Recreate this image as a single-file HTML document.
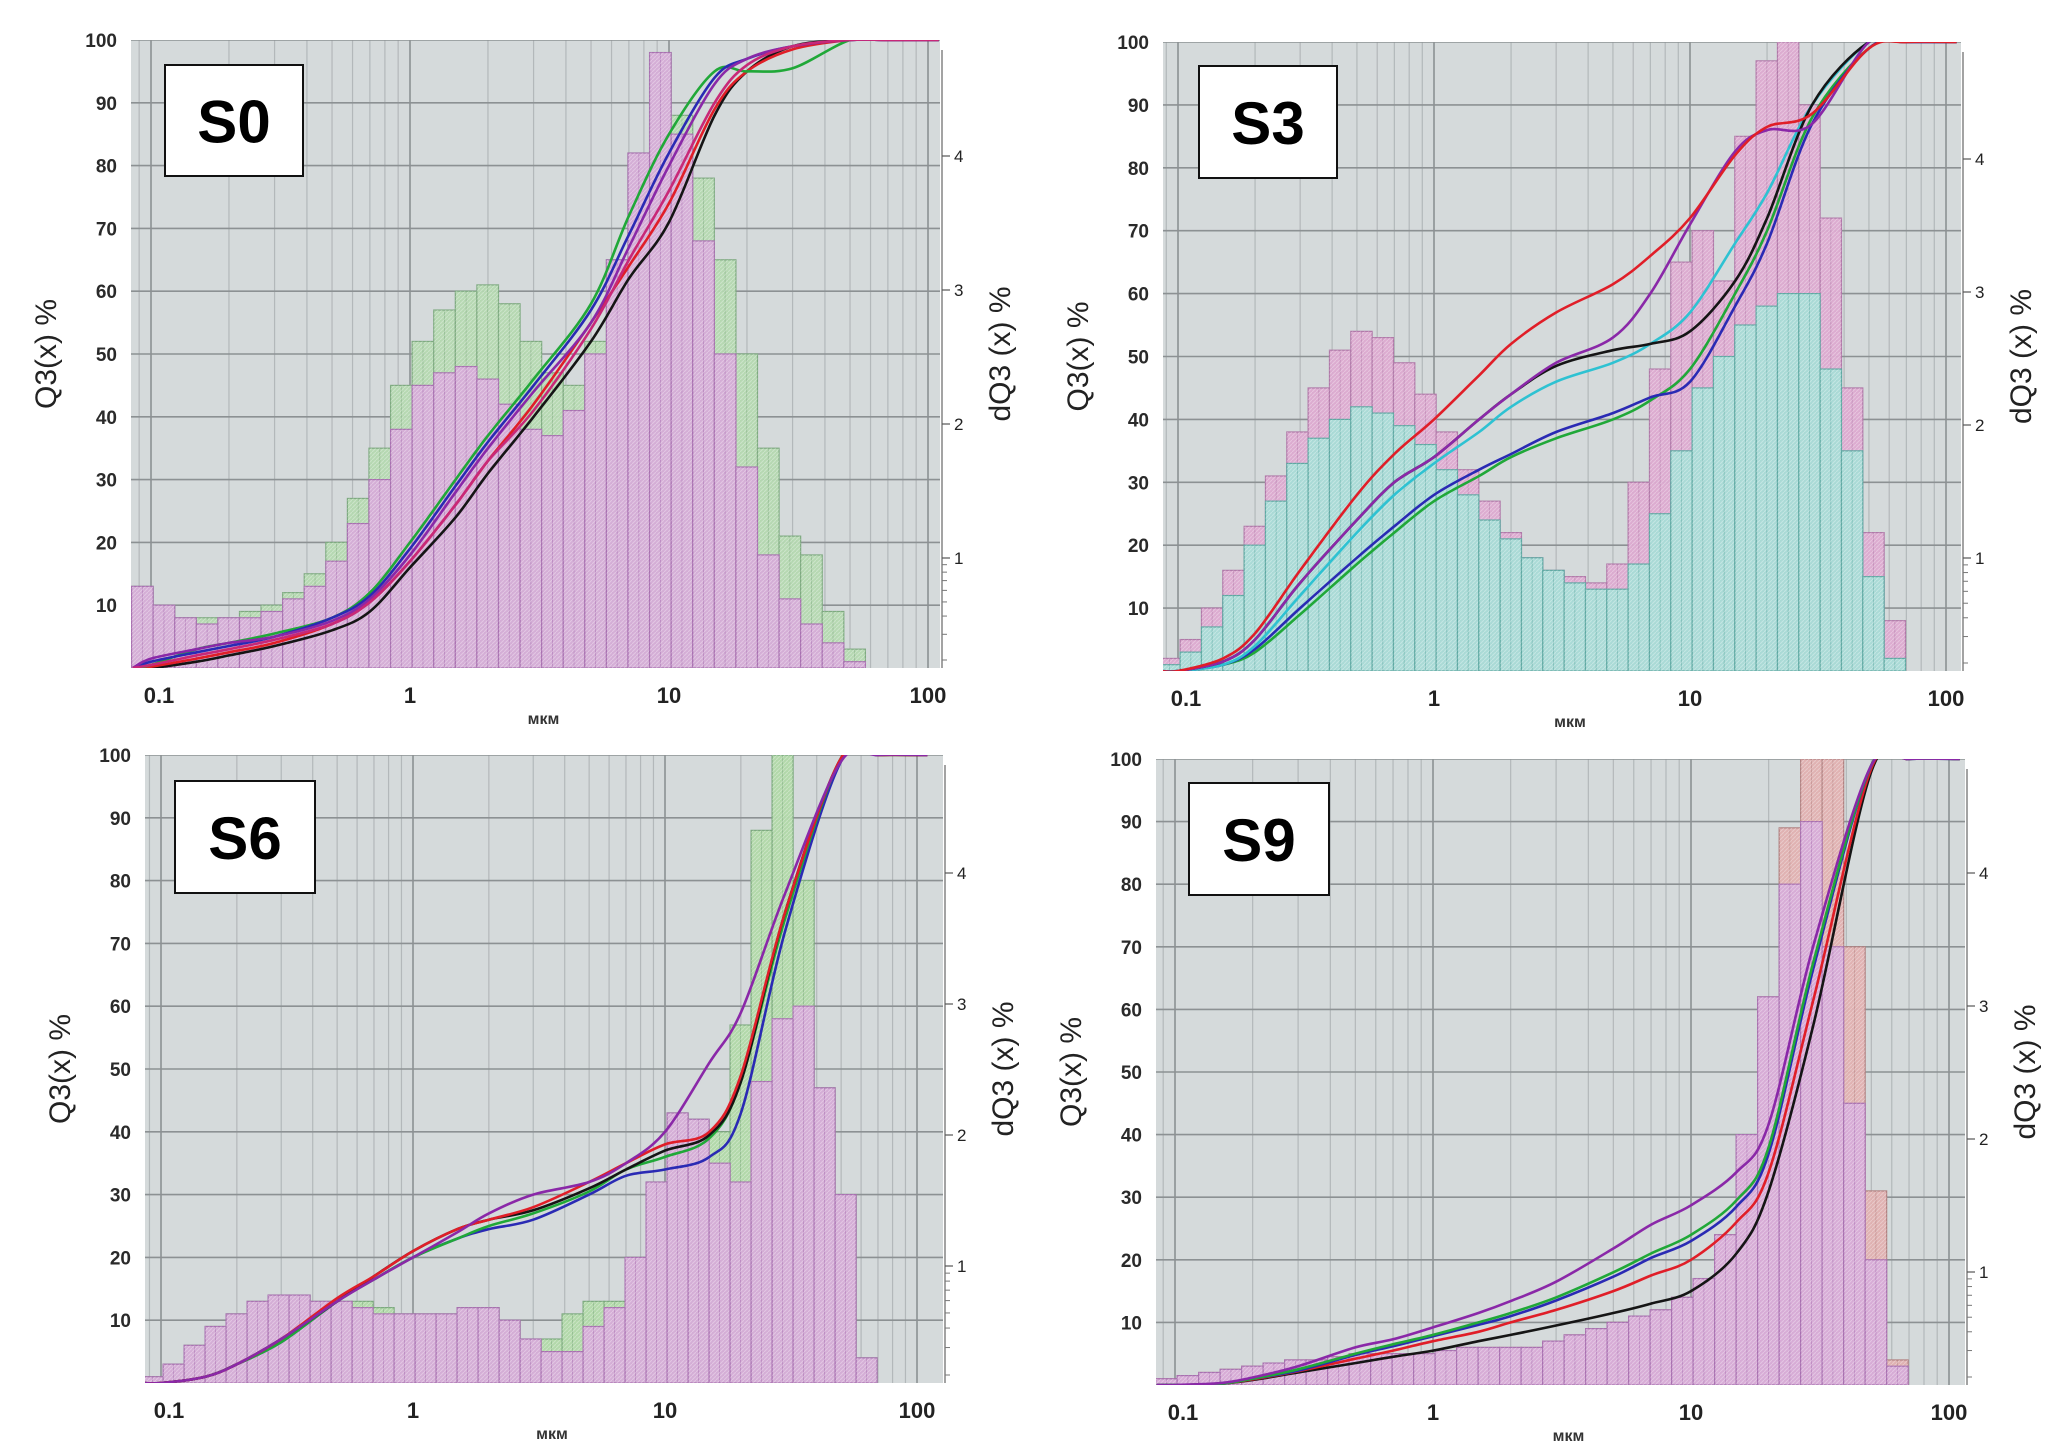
<!DOCTYPE html>
<html><head><meta charset="utf-8"><style>
html,body{margin:0;padding:0;background:#fff;}
svg{display:block;}
text{font-family:"Liberation Sans",sans-serif;}
</style></head><body>
<svg id="root" width="2067" height="1456" viewBox="0 0 2067 1456" xmlns="http://www.w3.org/2000/svg">
<defs>
<pattern id="hatch" width="4" height="4" patternUnits="userSpaceOnUse"><path d="M0,4 L4,0" stroke="#ffffff" stroke-opacity="0.3" stroke-width="1"/></pattern>
</defs>
</svg>
<script>
// bins: 12 per decade, edges 10^(-1.075 + i/12)
const binCount = 35;
const curveX = [0.085,0.1,0.15,0.2,0.3,0.5,0.7,1,1.5,2,3,5,7,10,15,20,30,50,70,110];
const yTicks = [10,20,30,40,50,60,70,80,90,100];
const xTickLabels = ["0.1","1","10","100"];
const xTickValues = [0.1,1,10,100];
const rightTicks = [1,2,3,4];

// S0
const s0Front = [13,10,8,7,8,8,9,11,13,17,23,30,38,45,47,48,46,42,38,37,41,50,65,82,98,85,68,50,32,18,11,7,4,1,0];
const s0Back  = [13,10,8,8,8,9,10,12,15,20,27,35,45,52,57,60,61,58,52,47,45,52,65,82,98,88,78,65,50,35,21,18,9,3,0];
const s0Black  = [0,0,1,2,3.5,6,9,16,24,31,40,52,62,71,88,95,99,100,100,100];
const s0Red    = [0,0.2,1.5,2.5,4,7,10.5,17,26,33,42,55,64,74,89,95,98.5,100,100,100];
const s0Green  = [0,0.5,3,4,5.5,8,12,20,30,37,46,58,72,85,95,95,95.5,100,100,100];
const s0Blue   = [0,1,2.5,3.5,5,8,11.5,19,29,36,45,57,69,82,94,97,99,100,100,100];
const s0Purple = [0,1.5,3,4,5,7.5,11,18,28,35,44,55,67,80,93,97,99,100,100,100];
const s0Magenta= [0,0.5,2,3,4.5,7,10.5,17,26,33,41,54,65,76,90,96,99,100,100,100];
// S3
const s3Front = [1,3,7,12,20,27,33,37,40,42,41,39,36,32,28,24,21,18,16,14,13,13,17,25,35,45,50,55,58,60,60,48,35,15,2];
const s3Back  = [2,5,10,16,23,31,38,45,51,54,53,49,44,38,32,27,22,18,16,15,14,17,30,48,65,70,62,85,97,100,90,72,45,22,8];
const s3Red    = [0,0,2,6,16,28,34.5,40,47,52,57,61.5,66,72,82,86.5,88.6,99,100,100];
const s3Black  = [0,0,1.5,5,14,24,30,34,40,44,48.5,51,52,54,62,72,90,100,100,100];
const s3Purple = [0,0,1.5,5,14,24,30,34,40,44,49,53,60,71,82.6,86,87,100,100,100];
const s3Cyan   = [0,0,1,4,12,22,28,33,38,42,46,49,52,57,68,76,90,100,100,100];
const s3Green  = [0,0,1,3,9,17,22,27,31,34,37,40,43,48,60,70,88,99,100,100];
const s3Blue   = [0,0,1,3.5,10,18,23,28,32,34.5,38,41,43.5,46,58,68,87,99,100,100];
// S6
const s6Front = [1,3,6,9,11,13,14,14,13,13,12,11,11,11,11,12,12,10,7,5,5,9,12,20,32,43,42,35,32,48,58,60,47,30,4];
const s6Back  = [1,3,6,9,11,13,14,14,13,13,13,12,11,11,11,12,12,10,7,7,11,13,13,20,32,43,42,40,57,88,100,80,47,30,4];
const s6Purple = [0,0,1,3,7,13,16.5,20,24,27,30,32,35,40,51,59,78,99,100,100];
const s6Red    = [0,0,1,3,7,13.5,17,21,24.5,26,28,32,35,38,40,49,75,99.5,100,100];
const s6Black  = [0,0,1,3,7,13,17,21,24.5,26,27.5,31,34,37,39.5,48,75,99.5,100,100];
const s6Green  = [0,0,1,3,6.5,13,16.5,20,23,25,27,30.5,34,36,39,48,74,99.5,100,100];
const s6Blue   = [0,0,1,3,6.5,13,16.5,20,23,24.5,26,30,33,34,36,43,72,99,100,100];
// S9
const s9Front = [1,1.5,2,2.5,3,3.5,4,4,4.5,5,5,5,5,5.5,6,6,6,6,7,8,9,10,11,12,14,17,24,40,62,80,90,70,45,20,3];
const s9Back  = [1,1.5,2,2.5,3,3.5,4,4,4.5,5,5,5,5,5.5,6,6,6,6,7,8,9,10,11,12,14,17,24,40,62,89,100,100,70,31,4];
const s9Purple = [0,0,0.3,1.2,3,6,7.3,9.2,11.5,13.4,16.5,21.8,25.6,28.7,34,41.7,70.6,99,100,100];
const s9Green  = [0,0,0.2,1,2.5,5,6.5,8,10,11.5,14,18,21,24,29.5,38,68,99,100,100];
const s9Blue   = [0,0,0.2,1,2.3,4.8,6.2,7.8,9.6,11,13.5,17.3,20.3,23,28.5,37,67,99,100,100];
const s9Red    = [0,0,0.2,0.9,2.2,4.2,5.5,7,8.5,10,12,15,17.5,20,26,34,62,98.5,100,100];
const s9Black  = [0,0,0.2,0.8,2,3.5,4.5,5.5,7,8,9.5,11.5,13,15,21,31,58,98,100,100];

const NS = "http://www.w3.org/2000/svg";
const root = document.getElementById('root');
function mk(tag, attrs, parent){ const e=document.createElementNS(NS,tag); for(const k in attrs) e.setAttribute(k,attrs[k]); (parent||root).appendChild(e); return e; }

const C = {black:"#151515",red:"#e01e28",green:"#20a838",blue:"#2a2ab4",purple:"#8a28a8",magenta:"#c82878",cyan:"#2ec2d2"};

const panels = [
 {id:"s0",label:"S0",L:131,R:940,T:40,B:668,x1:410,dec:259,box:[165,65,138,111],rOne:558,rUnit:134,
  front:s0Front,back:s0Back,fc:"#d6acd8",fs:"#a870b0",bc:"#b4d8b0",bs:"#7eaa80",
  curves:[["black",s0Black],["red",s0Red],["green",s0Green],["blue",s0Blue],["purple",s0Purple],["magenta",s0Magenta]]},
 {id:"s3",label:"S3",L:1163,R:1961,T:42,B:671,x1:1434,dec:256,box:[1199,66,138,112],rOne:558,rUnit:133,
  front:s3Front,back:s3Back,fc:"#a6dcd6",fs:"#5ea8a2",bc:"#dcaad0",bs:"#b078a8",
  curves:[["green",s3Green],["blue",s3Blue],["cyan",s3Cyan],["black",s3Black],["purple",s3Purple],["red",s3Red]]},
 {id:"s6",label:"S6",L:145,R:943,T:755,B:1383,x1:413,dec:252,box:[175,781,140,112],rOne:1266,rUnit:131,
  front:s6Front,back:s6Back,fc:"#d6acd8",fs:"#a870b0",bc:"#b0d8a8",bs:"#7aa87c",
  curves:[["blue",s6Blue],["green",s6Green],["black",s6Black],["red",s6Red],["purple",s6Purple]]},
 {id:"s9",label:"S9",L:1156,R:1965,T:759,B:1385,x1:1433,dec:258,box:[1189,783,140,112],rOne:1272,rUnit:133,
  front:s9Front,back:s9Back,fc:"#d6acd8",fs:"#a870b0",bc:"#e0b0b0",bs:"#b08080",
  curves:[["black",s9Black],["red",s9Red],["blue",s9Blue],["green",s9Green],["purple",s9Purple]]}
];

function smooth(pts){
  let d="M"+pts[0][0].toFixed(1)+","+pts[0][1].toFixed(1);
  for(let i=0;i<pts.length-1;i++){
    const p0=pts[i-1]||pts[i], p1=pts[i], p2=pts[i+1], p3=pts[i+2]||p2;
    const c1=[p1[0]+(p2[0]-p0[0])/6, p1[1]+(p2[1]-p0[1])/6];
    const c2=[p2[0]-(p3[0]-p1[0])/6, p2[1]-(p3[1]-p1[1])/6];
    d+=" C"+c1[0].toFixed(1)+","+c1[1].toFixed(1)+" "+c2[0].toFixed(1)+","+c2[1].toFixed(1)+" "+p2[0].toFixed(1)+","+p2[1].toFixed(1);
  }
  return d;
}

panels.forEach(p=>{
  const g = mk('g',{});
  
  
  const xs = v => p.x1 + p.dec*Math.log10(v);
  const ys = v => p.B - v/100*(p.B-p.T);
  const cp = mk('clipPath',{id:'clip-'+p.id},g);
  mk('rect',{x:p.L,y:p.T,width:p.R-p.L,height:p.B-p.T},cp);
  const bg = mk('rect',{x:p.L,y:p.T,width:p.R-p.L,height:p.B-p.T,fill:"#d5dadb"},g);
  
  
  const grid = mk('g',{'clip-path':'url(#clip-'+p.id+')'},g);
  
  
  for(let e=-2;e<=2;e++){
    for(let m=1;m<=9;m++){
      const x=xs(m*Math.pow(10,e));
      if(x<p.L||x>p.R) continue;
      mk('line',{x1:x,x2:x,y1:p.T,y2:p.B,stroke:m===1?"#8c9193":"#b3b8ba","stroke-width":m===1?1.6:1.2},grid);
    }
  }
  yTicks.forEach(v=>{ mk('line',{x1:p.L,x2:p.R,y1:ys(v),y2:ys(v),stroke:"#8c9193","stroke-width":1.6},grid); });
  const edge = i => Math.pow(10,-1.075+i/12);
  [[p.back,p.bc,p.bs,'back'],[p.front,p.fc,p.fs,'front']].forEach(([arr,fill,stroke,nm])=>{
    const hg = mk('g',{'clip-path':'url(#clip-'+p.id+')'},g);
    
    
    arr.forEach((v,i)=>{
      const x0=xs(edge(i)), x1=xs(edge(i+1)), y=ys(v);
      const r = mk('rect',{x:x0,y:y,width:x1-x0,height:p.B-y,fill:fill,stroke:stroke,"stroke-width":1.2,"fill-opacity":0.95},hg);
      
      
      mk('line',{x1:(x0+x1)/2,x2:(x0+x1)/2,y1:y,y2:p.B,stroke:stroke,"stroke-width":0.8,"stroke-opacity":0.6},hg);
      mk('rect',{x:x0,y:y,width:x1-x0,height:p.B-y,fill:"url(#hatch)"},hg);
    });
  });
  const cg = mk('g',{'clip-path':'url(#clip-'+p.id+')'},g);
  p.curves.forEach(([col,arr])=>{
    const pts = curveX.map((xv,i)=>[xs(xv),ys(arr[i])]);
    const path = mk('path',{d:smooth(pts),fill:"none",stroke:C[col],"stroke-width":2.6},cg);
    
    
  });
  yTicks.forEach(v=>{
    const t = mk('text',{x:p.L-14,y:ys(v)+7,'text-anchor':'end','font-size':19,'font-weight':'bold',fill:"#2a2a2a"},g);
    t.textContent = v;
    
    
  });
  xTickValues.forEach((v,i)=>{
    const t = mk('text',{x:xs(v)+ (i===0?8:0),y:p.B+35,'text-anchor':'middle','font-size':22,'font-weight':'bold',fill:"#222"},g);
    t.textContent = xTickLabels[i];
    
    
  });
  const ra = mk('line',{x1:p.R+2,x2:p.R+2,y1:p.T+10,y2:p.B,stroke:"#666","stroke-width":1.2},g);
  
  
  rightTicks.forEach(v=>{
    const y = p.rOne-(v-1)*p.rUnit;
    mk('line',{x1:p.R+2,x2:p.R+10,y1:y,y2:y,stroke:"#555","stroke-width":1.2},g);
    const t = mk('text',{x:p.R+14,y:y+6,'font-size':17,fill:"#222"},g);
    t.textContent = v;
    
    
  });
  [0.9,0.8,0.7,0.6,0.5,0.4,0.3,0.2].forEach(v=>{
    const y = p.rOne + (p.B-8-p.rOne)*(Math.log10(1/v)/Math.log10(1/0.2));
    mk('line',{x1:p.R+2,x2:p.R+7,y1:y,y2:y,stroke:"#777","stroke-width":1},g);
  });
  const cy=(p.T+p.B)/2;
  const yl = mk('text',{x:p.L-75,y:cy,'text-anchor':'middle','font-size':30,fill:"#222",transform:`rotate(-90 ${p.L-75} ${cy})`},g);
  yl.textContent="Q3(x) %";
  
  
  const yr = mk('text',{x:p.R+70,y:cy,'text-anchor':'middle','font-size':30,fill:"#222",transform:`rotate(-90 ${p.R+70} ${cy})`},g);
  yr.textContent="dQ3 (x) %";
  
  
  const xl = mk('text',{x:(p.L+p.R)/2+8,y:p.B+56,'text-anchor':'middle','font-size':16,'font-weight':'bold',fill:"#333"},g);
  xl.textContent="мкм";
  
  
  const [bx,by,bw,bh]=p.box;
  const br = mk('rect',{x:bx,y:by,width:bw,height:bh,fill:"#fff",stroke:"#111","stroke-width":2},g);
  
  
  const bt = mk('text',{x:bx+bw/2,y:by+bh/2+22,'text-anchor':'middle','font-size':60,'font-weight':'bold',fill:"#000"},g);
  bt.textContent=p.label;
  
  
});
</script>
</body></html>
